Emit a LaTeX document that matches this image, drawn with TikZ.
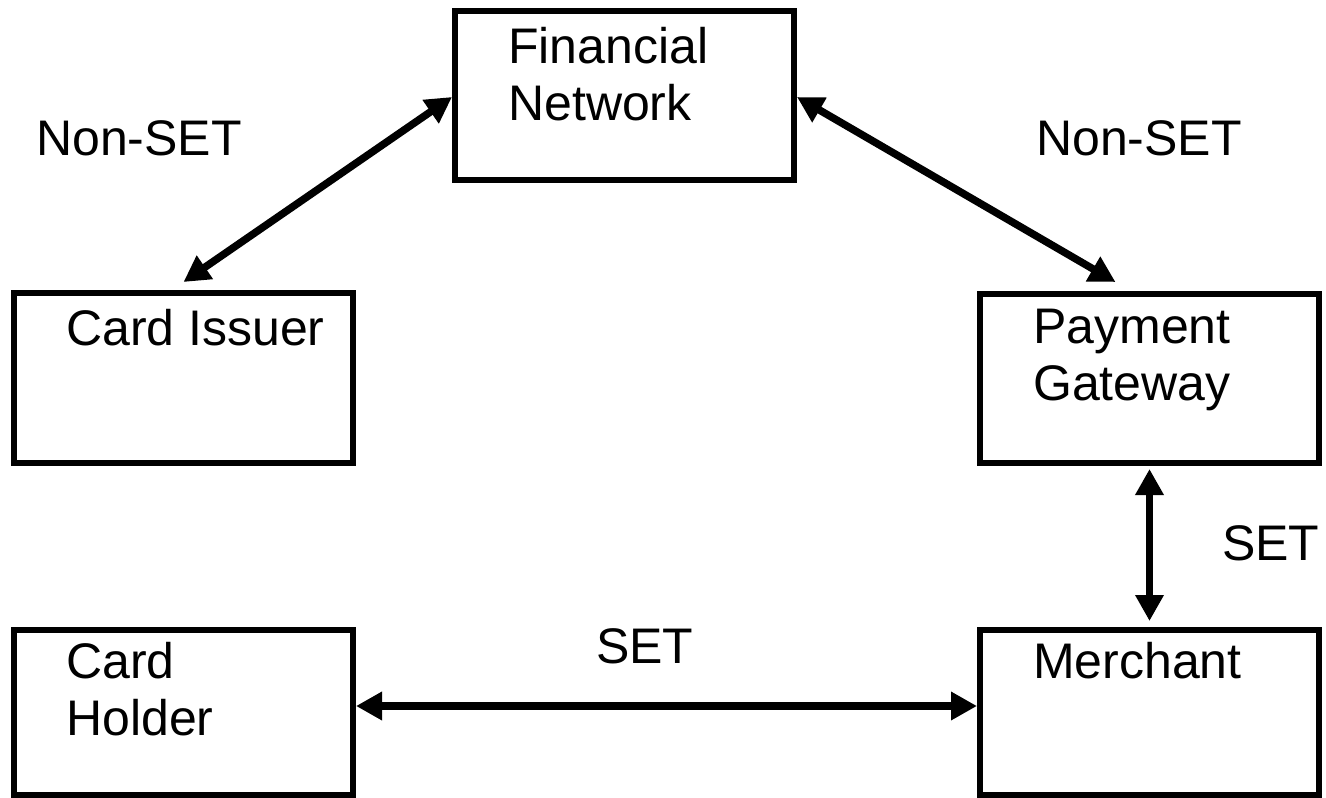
\documentclass[tikz,border=0pt]{standalone}
\usepackage{fontspec}
\setmainfont{Liberation Sans}
\usetikzlibrary{arrows.meta}
\begin{document}
\begin{tikzpicture}[x=1pt,y=-1pt,
  box/.style={draw,line width=6pt,rectangle,inner sep=0pt},
  txt/.style={inner sep=0pt,anchor=base west,align=left,font=\fontsize{50}{57}\selectfont},
  arr/.style={line width=7.5pt,{Triangle[length=26pt,width=27pt]}-{Triangle[length=26pt,width=27pt]}}]
\useasboundingbox (0,0) rectangle (1326,798);
\node[box,minimum width=339pt,minimum height=169pt] (fn) at (624.5,95.5) {};
\node[box,minimum width=339pt,minimum height=170pt] (ci) at (183.5,378) {};
\node[box,minimum width=339pt,minimum height=169pt] (pg) at (1149.5,378.5) {};
\node[box,minimum width=339pt,minimum height=165pt] (ch) at (183.5,712.5) {};
\node[box,minimum width=339pt,minimum height=165pt] (m) at (1149.5,712.5) {};
\node[txt] (fnt) at (508,120) {Financial\\Network};
\node[txt] (cit) at (66,345) {Card Issuer};
\node[txt] (pgt) at (1033,400) {Payment\\Gateway};
\node[txt] (cht) at (66,735) {Card\\Holder};
\node[txt] (mt) at (1033,678) {Merchant};
\node[txt] (l1) at (36,155) {Non-SET};
\node[txt] (l2) at (1036,155) {Non-SET};
\node[txt] (l3) at (1222,560) {SET};
\node[txt] (l4) at (596,663) {SET};
\draw[arr] ([yshift=-1.5pt]fn.west) -- ([yshift=8pt]ci.north);
\draw[arr] ([yshift=-1.5pt]fn.east) -- ([xshift=-34pt,yshift=9pt]pg.north);
\draw[arr] ([yshift=-3pt]pg.south) -- ([yshift=6pt]m.north);
\draw[arr] ([yshift=6.5pt]ch.east) -- ([yshift=6.5pt]m.west);
\end{tikzpicture}
\end{document}
